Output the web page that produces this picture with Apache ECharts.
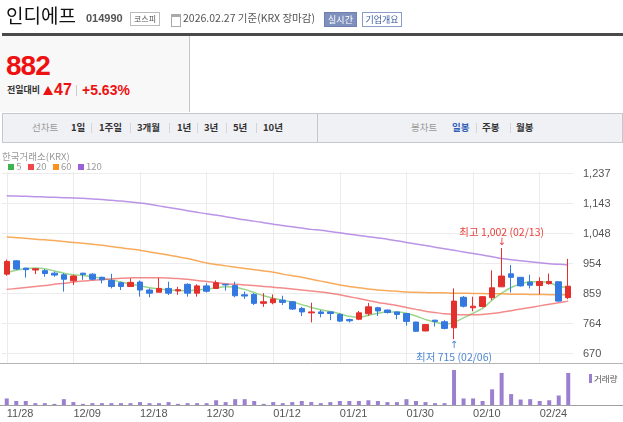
<!DOCTYPE html>
<html><head><meta charset="utf-8">
<script src="https://cdn.jsdelivr.net/npm/echarts@6.0.0/dist/echarts.min.js"></script>
<style>
html,body{margin:0;padding:0;width:623px;height:422px;overflow:hidden;background:#fff;font-family:"Noto Sans CJK KR","Liberation Sans",sans-serif;}
#chart{position:absolute;left:0;top:0;width:623px;height:422px;}
.abs{position:absolute;white-space:nowrap;}
.num{font-family:"Liberation Sans",Arial,sans-serif;}
.sep{position:absolute;top:123px;width:1px;height:10px;background:#d3d5db;}
.tab{position:absolute;top:113px;line-height:29px;font-size:9.5px;font-weight:bold;color:#333;white-space:nowrap;}
</style></head><body>
<div id="chart"></div>

<div class="abs" style="left:6px;top:3px;font-size:19px;line-height:24px;color:#111;">인디에프</div>
<div class="abs num" style="left:86px;top:11px;font-size:11px;font-weight:bold;line-height:14px;color:#555;">014990</div>
<div class="abs" style="left:130px;top:12px;width:28px;height:12px;border:1px solid #bbb;font-size:8px;line-height:12px;text-align:center;color:#555;">코스피</div>
<div class="abs" style="left:171px;top:14px;width:8px;height:9px;border:1px solid #aaa;border-top:3px solid #aaa;"></div>
<div class="abs" style="left:183px;top:11px;font-size:10.5px;line-height:14px;color:#555;">2026.02.27 기준(KRX 장마감)</div>
<div class="abs" style="left:324px;top:12px;width:31px;height:13px;background:#7f90bd;border:1px solid #6e80b0;color:#fff;font-size:9px;line-height:13px;text-align:center;">실시간</div>
<div class="abs" style="left:362px;top:12px;width:38px;height:13px;border:1px solid #8d9cc6;color:#3c5aa0;font-size:9px;line-height:13px;text-align:center;background:#fff;">기업개요</div>
<div class="abs" style="left:2px;top:33px;width:621px;height:3px;background:#4a4a4a;"></div>

<div class="abs" style="left:0;top:36px;width:189px;height:76px;background:#f8f8f8;border-right:1px solid #c6c6c6;"></div>
<div class="abs num" style="left:6px;top:51px;font-size:28px;font-weight:bold;line-height:30px;color:#ee1111;letter-spacing:-1px;">882</div>
<div class="abs" style="left:7px;top:84px;font-size:9px;font-weight:bold;line-height:12px;color:#333;">전일대비</div>
<div class="abs" style="left:43px;top:86px;width:0;height:0;border-left:5.5px solid transparent;border-right:5.5px solid transparent;border-bottom:9px solid #ee1111;"></div>
<div class="abs num" style="left:54px;top:81px;font-size:16px;font-weight:bold;line-height:18px;color:#ee1111;">47</div>
<div class="abs" style="left:76px;top:85px;width:1px;height:11px;background:#ccc;"></div>
<div class="abs num" style="left:82px;top:82px;font-size:14px;font-weight:bold;line-height:16px;color:#ee1111;">+5.63%</div>

<div class="abs" style="left:2px;top:113px;width:619px;height:28px;background:#f0f1f5;border:1px solid #c4c7cf;"></div>
<div class="abs" style="left:317px;top:113px;width:1px;height:30px;background:#c4c7cf;"></div>
<div class="tab" style="left:32px;color:#999;font-weight:normal;">선차트</div>
<div class="tab" style="left:71px;">1일</div><div class="sep" style="left:91px;"></div>
<div class="tab" style="left:99px;">1주일</div><div class="sep" style="left:130px;"></div>
<div class="tab" style="left:137px;">3개월</div><div class="sep" style="left:169px;"></div>
<div class="tab" style="left:177px;">1년</div><div class="sep" style="left:197px;"></div>
<div class="tab" style="left:204px;">3년</div><div class="sep" style="left:226px;"></div>
<div class="tab" style="left:233px;">5년</div><div class="sep" style="left:256px;"></div>
<div class="tab" style="left:263px;">10년</div>
<div class="tab" style="left:411px;color:#999;font-weight:normal;">봉차트</div>
<div class="tab" style="left:452px;color:#2f5fb8;">일봉</div><div class="sep" style="left:476px;"></div>
<div class="tab" style="left:482px;">주봉</div><div class="sep" style="left:510px;"></div>
<div class="tab" style="left:516px;">월봉</div>

<div class="abs" style="left:2px;top:150px;font-size:9.5px;line-height:13px;color:#999;">한국거래소(KRX)</div>
<div class="abs" style="left:8px;top:161px;font-size:9.5px;line-height:11px;color:#999;">
<span style="display:inline-block;width:6px;height:6px;background:#3cb44b;"></span> 5&nbsp;&nbsp;
<span style="display:inline-block;width:6px;height:6px;background:#f04848;"></span> 20&nbsp;&nbsp;
<span style="display:inline-block;width:6px;height:6px;background:#f7931e;"></span> 60&nbsp;&nbsp;
<span style="display:inline-block;width:6px;height:6px;background:#9b5fd8;"></span> 120</div>

<script>
const dates = ['11/28','12/01','12/02','12/03','12/04','12/05','12/08','12/09','12/10','12/11','12/12','12/15','12/16','12/17','12/18','12/19','12/22','12/23','12/24','12/26','12/29','12/30','01/02','01/05','01/06','01/07','01/08','01/09','01/12','01/13','01/14','01/15','01/16','01/19','01/20','01/21','01/22','01/23','01/26','01/27','01/28','01/29','01/30','02/02','02/03','02/04','02/05','02/06','02/09','02/10','02/11','02/12','02/13','02/19','02/20','02/23','02/24','02/25','02/26','02/27'];
const opens  = [920,962,939,933,931,923,918,899,923,920,910,900,893,881,895,870,863,875,867,888,860,883,875,888,884,855,856,828,830,838,833,812,798,801,801,793,777,778,795,814,807,801,796,769,741,775,770,751,847,814,818,846,880,921,910,895,884,890,896,846];
const closes = [960,936,934,937,922,917,904,914,919,904,902,881,881,894,870,860,875,860,871,860,883,866,893,886,852,851,828,833,842,831,810,801,801,796,796,772,773,798,817,804,799,793,771,740,761,771,749,835,819,819,849,877,914,910,883,885,897,897,835,882];
const lows   = [915,933,909,920,912,912,865,886,902,900,891,875,870,881,849,847,863,854,855,849,849,862,873,868,847,842,823,817,825,823,807,788,768,784,775,769,768,775,789,788,796,778,758,738,740,755,746,715,815,803,815,838,880,862,881,875,857,887,833,841];
const highs  = [966,963,940,939,936,928,923,918,924,923,912,921,896,907,900,875,908,896,880,891,888,891,900,889,896,865,860,860,856,852,835,817,830,807,802,797,780,804,829,817,808,802,797,770,762,776,775,875,851,849,851,932,1002,949,911,918,910,922,897,968];
const volumes = [18,11,11,5,5,3,16,8,3,5,5,5,5,5,8,5,5,8,3,5,5,5,13,8,16,16,11,3,8,5,8,11,8,5,8,11,11,11,13,11,8,8,16,11,8,5,5,96,18,18,11,43,88,30,15,16,11,13,26,88];
const ma5   = [925,932,937,939,937,930,923,918,916,912,907,902,895,889,883,877,873,870,869,868,870,873,877,880,879,872,862,852,844,838,832,824,815,808,802,795,787,784,790,797,801,801,797,788,777,769,762,768,782,797,812,838,860,878,889,896,896,894,881,879];
const ma20  = [872,875,878,881,884,888,891,895,898,901,903,905,907,908,909,909,909,908,906,904,900,897,893,890,888,886,884,881,879,876,873,870,867,864,860,855,849,843,837,831,826,821,815,809,803,799,795,793,792,792,793,796,800,805,810,815,820,825,830,835];
const ma60  = [1037,1035,1033,1030,1028,1026,1023,1020,1017,1014,1011,1007,1003,999,995,990,985,980,975,969,962,955,950,946,942,938,934,930,926,920,915,910,904,898,892,886,881,877,873,870,868,866,864,863,862,861,861,860,860,859,859,858,858,857,857,856,856,855,855,855];
const ma120 = [1167,1166,1165,1164,1163,1162,1161,1160,1159,1157,1155,1153,1150,1147,1144,1140,1135,1130,1125,1120,1115,1110,1106,1101,1096,1091,1087,1082,1077,1073,1069,1065,1061,1058,1054,1050,1046,1042,1038,1034,1030,1025,1020,1015,1010,1005,1000,995,990,985,980,975,969,965,962,959,956,953,951,949];
const priceTicks = ['670','764','859','954','1,048','1,143','1,237'];
const maNames = ['5','20','60','120'];

const candleData = dates.map((d,i)=>[opens[i], closes[i], lows[i], highs[i]]);
let hiIdx = 0, loIdx = 0;
highs.forEach((v,i)=>{ if (v > highs[hiIdx]) hiIdx = i; });
lows.forEach((v,i)=>{ if (v < lows[loIdx]) loIdx = i; });
const fmt = v => v.toLocaleString('en-US');

const UP = '#e3302d', DOWN = '#3479e0';
const maColors = ['rgba(120,200,100,0.75)','rgba(240,90,90,0.7)','rgba(246,150,50,0.8)','rgba(170,120,225,0.8)'];
const maData = [ma5, ma20, ma60, ma120];

const chart = echarts.init(document.getElementById('chart'), null, {renderer:'canvas'});
const option = {
  animation:false,
  grid:[
    {left:2, top:173.5, width:571, height:180},
    {left:2, top:366, width:571, height:39},
    {left:6.76, top:172, width:561.5, height:191}
  ],
  xAxis:[
    {type:'category', gridIndex:0, data:dates, boundaryGap:true, axisLine:{show:false}, axisTick:{show:false}, axisLabel:{show:false}, splitLine:{show:false}},
    {type:'category', gridIndex:1, data:dates, boundaryGap:true, axisLine:{show:false}, axisTick:{show:false},
     axisLabel:{show:true, interval:(i)=> i%7===0, align:'left', margin:3, color:'#555', fontSize:11, fontFamily:'Liberation Sans'}, splitLine:{show:false}},
    {type:'category', gridIndex:2, data:dates, boundaryGap:false, axisLine:{show:false}, axisTick:{show:false}, axisLabel:{show:false},
     splitLine:{show:true, interval:(i)=> i%7===0, lineStyle:{color:'#ececec', width:1}}}
  ],
  yAxis:[
    {type:'value', gridIndex:0, position:'right', min:670, max:1237, interval:94.5, scale:true,
     axisLine:{show:false}, axisTick:{show:false}, splitLine:{show:true, lineStyle:{color:'#ececec'}},
     axisLabel:{margin:10, color:'#555', fontSize:11, fontFamily:'Liberation Sans', formatter:(v)=> priceTicks[Math.round((v-670)/94.5)] || ''}},
    {type:'value', gridIndex:1, min:0, max:107, show:false},
    {type:'value', gridIndex:2, min:0, max:1, show:false}
  ],
  series:[
    ...maData.map((d,k)=>({
      name:maNames[k], type:'line', xAxisIndex:0, yAxisIndex:0, data:d, showSymbol:false, smooth:0.2, z:2, silent:true,
      lineStyle:{color:maColors[k], width:1.5}
    })),
    {
      type:'candlestick', xAxisIndex:0, yAxisIndex:0, data:candleData, barWidth:6, z:3, silent:true,
      itemStyle:{color:UP, color0:DOWN, borderColor:UP, borderColor0:DOWN, borderWidth:1},
      markPoint:{
        silent:true, symbol:'circle', symbolSize:1, itemStyle:{color:'rgba(0,0,0,0)'},
        data:[
          {coord:[dates[hiIdx], highs[hiIdx]],
           label:{show:true, position:'top', distance:0, align:'center',
             formatter:`{t|최고 ${fmt(highs[hiIdx])} (${dates[hiIdx]})}\n{a|↓}`,
             rich:{t:{color:'#e8403c', fontSize:10.5, lineHeight:12, align:'center', fontFamily:'Noto Sans CJK KR'},
                   a:{color:'#e8403c', fontSize:10, lineHeight:10, align:'center', fontFamily:'DejaVu Sans'}}}},
          {coord:[dates[loIdx], lows[loIdx]],
           label:{show:true, position:'bottom', distance:1, align:'center',
             formatter:`{a|↑}\n{t|최저 ${fmt(lows[loIdx])} (${dates[loIdx]})}`,
             rich:{t:{color:'#4f87d4', fontSize:10.5, lineHeight:12, align:'center', fontFamily:'Noto Sans CJK KR'},
                   a:{color:'#4f87d4', fontSize:10, lineHeight:10, align:'center', fontFamily:'DejaVu Sans'}}}}
        ]
      }
    },
    {type:'bar', xAxisIndex:1, yAxisIndex:1, data:volumes, barWidth:4, silent:true, itemStyle:{color:'#9c80d0'}}
  ],
  graphic:[
    {type:'line', shape:{x1:0, y1:363.5, x2:623, y2:363.5}, style:{stroke:'#b5b5b5', lineWidth:1}, silent:true},
    {type:'line', shape:{x1:0, y1:405.5, x2:623, y2:405.5}, style:{stroke:'#a0a0a0', lineWidth:1}, silent:true},
    {type:'rect', shape:{x:589, y:374, width:3, height:9}, style:{fill:'#9c80d0'}, silent:true},
    {type:'text', x:594, y:378.5, style:{text:'거래량', fill:'#555', fontSize:8.5, fontFamily:'Noto Sans CJK KR', verticalAlign:'middle'}, silent:true}
  ]
};
chart.setOption(option);
</script>
</body></html>
